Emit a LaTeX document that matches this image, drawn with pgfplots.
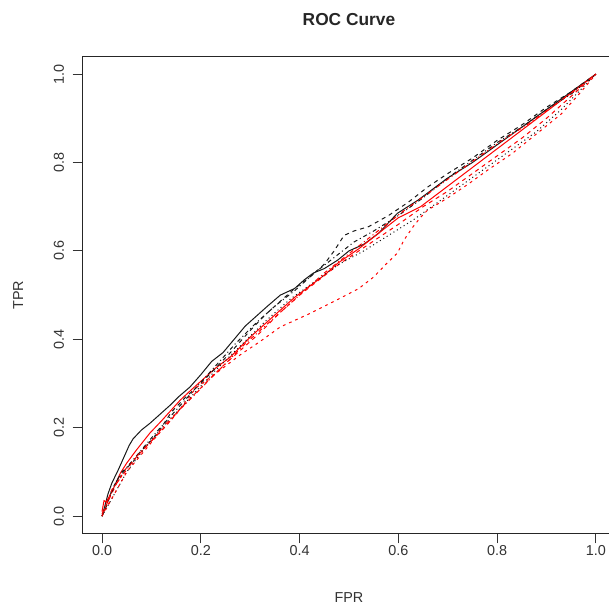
\documentclass[border=0pt]{standalone}
\usepackage{pgfplots}
\pgfplotsset{compat=1.18}
\usepackage{fontspec}
\setmainfont{Liberation Sans}
\begin{document}
\begin{tikzpicture}[x=1pt,y=1pt]
\pgfplotsset{
  rdash/.style={dash pattern=on 3pt off 3pt},
  rdot/.style={dash pattern=on 0.8pt off 2.2pt},
  rdotdash/.style={dash pattern=on 0.8pt off 2.2pt on 3pt off 2.2pt},
  rshort/.style={dash pattern=on 2pt off 3pt},
}
\begin{axis}[
  at={(0,0)}, anchor=south west,
  scale only axis,
  width=400pt, height=358pt,
  xmin=-0.04, xmax=1.04, ymin=-0.04, ymax=1.04,
  xtick={0,0.2,0.4,0.6,0.8,1.0},
  ytick={0,0.2,0.4,0.6,0.8,1.0},
  xticklabels={0.0,0.2,0.4,0.6,0.8,1.0},
  yticklabels={0.0,0.2,0.4,0.6,0.8,1.0},
  tick align=outside,
  major tick length=7.2pt,
  xtick pos=bottom, ytick pos=left,
  tick style={black!80, line width=0.75pt},
  axis line style={black!85, line width=0.75pt},
  ticklabel style={font=\fontsize{10.8}{12}\selectfont, text=black!80},
  /pgf/number format/assume math mode=true,
  xticklabel style={anchor=center, yshift=-5pt},
  yticklabel style={rotate=90, anchor=south, yshift=3pt},
  every axis plot/.append style={line width=0.75pt},
  clip=false,
]
% black solid
\addplot[black!90, solid] coordinates {(0,0) (0.005,0.02) (0.012,0.05) (0.02,0.075) (0.033,0.105) (0.045,0.135) (0.055,0.16) (0.063,0.175) (0.08,0.195) (0.097,0.21) (0.115,0.228) (0.138,0.251) (0.155,0.27) (0.178,0.292) (0.2,0.32) (0.222,0.35) (0.245,0.37) (0.266,0.398) (0.29,0.43) (0.31,0.45) (0.335,0.475) (0.361,0.5) (0.39,0.515) (0.41,0.535) (0.428,0.55) (0.45,0.56) (0.477,0.579) (0.5,0.6) (0.53,0.615) (0.56,0.64) (0.598,0.685) (0.64,0.715) (0.7,0.765) (0.75,0.8) (0.8,0.84) (0.85,0.88) (0.9,0.92) (0.95,0.96) (1,1)};
% red solid
\addplot[red, solid] coordinates {(0,0.01) (0.004,0.035) (0.012,0.03) (0.01,0.035) (0.02,0.055) (0.037,0.097) (0.05,0.12) (0.07,0.15) (0.097,0.188) (0.12,0.215) (0.158,0.262) (0.18,0.285) (0.2,0.305) (0.23,0.335) (0.26,0.36) (0.3,0.405) (0.33,0.435) (0.361,0.466) (0.39,0.495) (0.42,0.52) (0.45,0.545) (0.477,0.572) (0.52,0.605) (0.56,0.64) (0.6,0.675) (0.645,0.7) (1,1)};
% black dashed
\addplot[black!90, rdash] coordinates {(0,0) (0.01,0.025) (0.02,0.06) (0.04,0.1) (0.061,0.12) (0.077,0.145) (0.104,0.176) (0.12,0.2) (0.14,0.235) (0.17,0.27) (0.2,0.3) (0.23,0.335) (0.26,0.37) (0.3,0.42) (0.33,0.455) (0.36,0.485) (0.39,0.515) (0.42,0.54) (0.45,0.57) (0.47,0.6) (0.49,0.635) (0.51,0.645) (0.54,0.655) (0.58,0.68) (0.62,0.71) (0.66,0.745) (0.7,0.775) (0.75,0.81) (0.8,0.85) (0.85,0.885) (0.9,0.925) (0.95,0.96) (1,1)};
% red dashed
\addplot[red, rdash] coordinates {(0,0.005) (0.015,0.04) (0.03,0.075) (0.05,0.11) (0.075,0.14) (0.1,0.17) (0.13,0.205) (0.16,0.245) (0.2,0.29) (0.24,0.335) (0.28,0.375) (0.32,0.415) (0.36,0.46) (0.4,0.5) (0.44,0.535) (0.48,0.57) (0.52,0.6) (0.56,0.63) (0.6,0.66) (0.65,0.7) (0.7,0.735) (0.75,0.775) (0.8,0.815) (0.85,0.855) (0.9,0.9) (0.95,0.95) (1,1)};
% black dotted
\addplot[black!90, rdot] coordinates {(0,0) (0.02,0.04) (0.05,0.1) (0.09,0.16) (0.13,0.21) (0.18,0.27) (0.23,0.33) (0.28,0.385) (0.33,0.44) (0.38,0.49) (0.43,0.53) (0.48,0.57) (0.53,0.6) (0.58,0.635) (0.63,0.67) (0.68,0.71) (0.73,0.75) (0.78,0.79) (0.83,0.83) (0.88,0.87) (0.93,0.92) (1,1)};
% red short-dashed (lower outlier)
\addplot[red, rshort] coordinates {(0,0) (0.01,0.02) (0.03,0.06) (0.05,0.1) (0.08,0.14) (0.11,0.18) (0.15,0.23) (0.19,0.29) (0.239,0.33) (0.28,0.365) (0.32,0.395) (0.361,0.428) (0.42,0.458) (0.477,0.49) (0.52,0.515) (0.55,0.541) (0.575,0.57) (0.598,0.595) (0.611,0.624) (0.63,0.655) (0.645,0.676) (0.659,0.692) (0.7,0.72) (0.74,0.75) (0.781,0.783) (0.83,0.82) (0.88,0.865) (0.93,0.91) (0.97,0.96) (1,1)};
% black dotdash
\addplot[black!90, rdotdash] coordinates {(0,0) (0.01,0.03) (0.03,0.08) (0.05,0.11) (0.08,0.15) (0.11,0.19) (0.15,0.24) (0.19,0.29) (0.23,0.34) (0.27,0.39) (0.31,0.435) (0.35,0.475) (0.39,0.51) (0.43,0.55) (0.47,0.585) (0.51,0.62) (0.55,0.645) (0.6,0.68) (0.65,0.72) (0.7,0.765) (0.75,0.805) (0.8,0.845) (0.85,0.88) (0.9,0.92) (0.95,0.955) (1,1)};
% red dotdash
\addplot[red, rdotdash] coordinates {(0,0) (0.01,0.03) (0.02,0.06) (0.04,0.09) (0.07,0.135) (0.1,0.17) (0.13,0.21) (0.17,0.255) (0.21,0.3) (0.25,0.345) (0.29,0.39) (0.33,0.43) (0.37,0.47) (0.41,0.51) (0.45,0.55) (0.49,0.585) (0.53,0.62) (0.57,0.655) (0.61,0.69) (0.66,0.73) (0.71,0.77) (0.76,0.81) (0.81,0.85) (0.86,0.885) (0.91,0.925) (0.96,0.965) (1,1)};
\end{axis}
\node[font=\bfseries\fontsize{13}{15}\selectfont, text=black!85] at (200pt,386pt) {ROC Curve};
\node[font=\fontsize{10.8}{12}\selectfont, text=black!80] at (200pt,-48pt) {FPR};
\node[font=\fontsize{10.8}{12}\selectfont, text=black!80, rotate=90] at (-48pt,179pt) {TPR};
\pgfresetboundingbox
\useasboundingbox (-61.7pt,-55.7pt) rectangle (395pt,400.3pt);
\end{tikzpicture}
\end{document}
